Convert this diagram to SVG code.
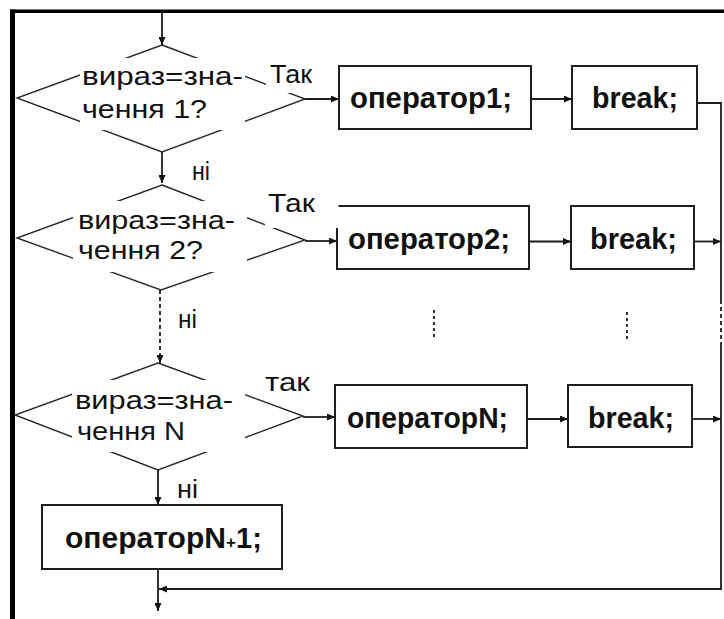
<svg xmlns="http://www.w3.org/2000/svg" width="724" height="619" viewBox="0 0 724 619">
<style>
.frame{fill:#000}
.box{fill:#fff;stroke:#1e1e1e;stroke-width:2}
.dia{fill:#fff;stroke:#2a2a2a;stroke-width:1.4}
.bg{fill:#fff;stroke:none}
.t{font-family:"Liberation Sans",Arial,sans-serif;font-size:25px;fill:#111}
.b{font-family:"Liberation Sans",Arial,sans-serif;font-size:29px;font-weight:bold;fill:#111}
.ln{fill:none;stroke:#1e1e1e;stroke-width:1.8}
.ar{marker-end:url(#ah)}
.dash{stroke-dasharray:4 3}
.dot{stroke-dasharray:3 3}
</style>
<defs>
<marker id="ah" markerUnits="userSpaceOnUse" markerWidth="8" markerHeight="7" refX="8" refY="3.5" orient="auto">
<path d="M0,0 L8,3.5 L0,7 z" fill="#111"/>
</marker>
</defs>
<rect width="724" height="619" fill="#fff"/>
<rect class="frame" x="10" y="9.5" width="714" height="3.5"/>
<rect class="frame" x="10" y="9.5" width="5" height="609.5"/>

<g id="d1">
<polygon class="dia" points="162,45 305,99 162,152 17,98"/>
<rect class="bg" x="80" y="58" width="165" height="72"/>
<text class="t" x="82" y="85" textLength="161" lengthAdjust="spacingAndGlyphs">вираз=зна-</text>
<text class="t" x="82" y="118" textLength="125" lengthAdjust="spacingAndGlyphs">чення 1?</text>
</g>
<g id="box1"><rect class="box" x="339" y="66" width="192" height="63"/><text class="b" x="350" y="108" textLength="162" lengthAdjust="spacingAndGlyphs">оператор1;</text></g>
<g id="break1"><rect class="box" x="572" y="66" width="125" height="63"/><text class="b" x="592" y="108" textLength="86" lengthAdjust="spacingAndGlyphs">break;</text></g>

<g id="d2">
<polygon class="dia" points="162,185 305,240 161,290 17,238"/>
<rect class="bg" x="73" y="201" width="174" height="71"/>
<text class="t" x="78" y="229" textLength="157" lengthAdjust="spacingAndGlyphs">вираз=зна-</text>
<text class="t" x="78" y="259" textLength="125" lengthAdjust="spacingAndGlyphs">чення 2?</text>
</g>
<g id="box2"><rect class="box" x="337" y="206" width="192" height="63"/><text class="b" x="348" y="249" textLength="162" lengthAdjust="spacingAndGlyphs">оператор2;</text></g>
<g id="break2"><rect class="box" x="571" y="206" width="123" height="63"/><text class="b" x="590" y="249" textLength="87" lengthAdjust="spacingAndGlyphs">break;</text></g>

<g id="dn">
<polygon class="dia" points="158,363 303,416 158,470 15,415"/>
<rect class="bg" x="72" y="380" width="173" height="72"/>
<text class="t" x="75" y="409" textLength="158" lengthAdjust="spacingAndGlyphs">вираз=зна-</text>
<text class="t" x="77" y="440" textLength="108" lengthAdjust="spacingAndGlyphs">чення N</text>
</g>
<g id="boxN"><rect class="box" x="335" y="385" width="192" height="63"/><text class="b" x="347" y="428" textLength="161" lengthAdjust="spacingAndGlyphs">операторN;</text></g>
<g id="breakN"><rect class="box" x="568" y="385" width="124" height="62"/><text class="b" x="588" y="428" textLength="86" lengthAdjust="spacingAndGlyphs">break;</text></g>

<g id="boxN1"><rect class="box" x="42" y="505" width="240" height="64"/><text class="b" x="65" y="548"><tspan textLength="161" lengthAdjust="spacingAndGlyphs">операторN</tspan><tspan x="226" font-size="17">+</tspan><tspan x="236">1;</tspan></text></g>

<g id="connectors">
<path class="ln ar" d="M162,13 V45"/>
<path class="ln ar" d="M162,152 V183"/>
<path class="ln ar dash" d="M160,290 V363"/>
<path class="ln ar" d="M158,470 V505"/>
<path class="ln ar" d="M158,569 V611"/>
<path class="ln ar" d="M305,99 H339"/>
<path class="ln ar" d="M531,99 H572"/>
<path class="ln ar" d="M305,241 H337"/>
<path class="ln ar" d="M529,241.5 H571"/>
<path class="ln ar" d="M303,417 H335"/>
<path class="ln ar" d="M527,419 H568"/>
<path class="ln" d="M697,103 H721 V300"/>
<path class="ln dash" d="M721,300 V346"/>
<path class="ln ar" d="M721,346 V589 H159"/>
<path class="ln ar" d="M694,241.5 H721"/>
<path class="ln ar" d="M692,419 H721"/>
<path class="ln dot" d="M434,310 V338"/>
<path class="ln dot" d="M627,312 V340"/>
<rect class="bg" x="266" y="56" width="70" height="37"/>
<text class="t" x="270" y="83" textLength="42" lengthAdjust="spacingAndGlyphs">Так</text>
<rect class="bg" x="265" y="188" width="73.5" height="40"/>
<text class="t" x="268" y="212" textLength="47" lengthAdjust="spacingAndGlyphs">Так</text>
<text class="t" x="265" y="391" textLength="45" lengthAdjust="spacingAndGlyphs">так</text>
<text class="t" x="192" y="180" textLength="18" lengthAdjust="spacingAndGlyphs">ні</text>
<text class="t" x="178" y="328" textLength="19" lengthAdjust="spacingAndGlyphs">ні</text>
<text class="t" x="177" y="498" textLength="21" lengthAdjust="spacingAndGlyphs">ні</text>
</g>
</svg>
